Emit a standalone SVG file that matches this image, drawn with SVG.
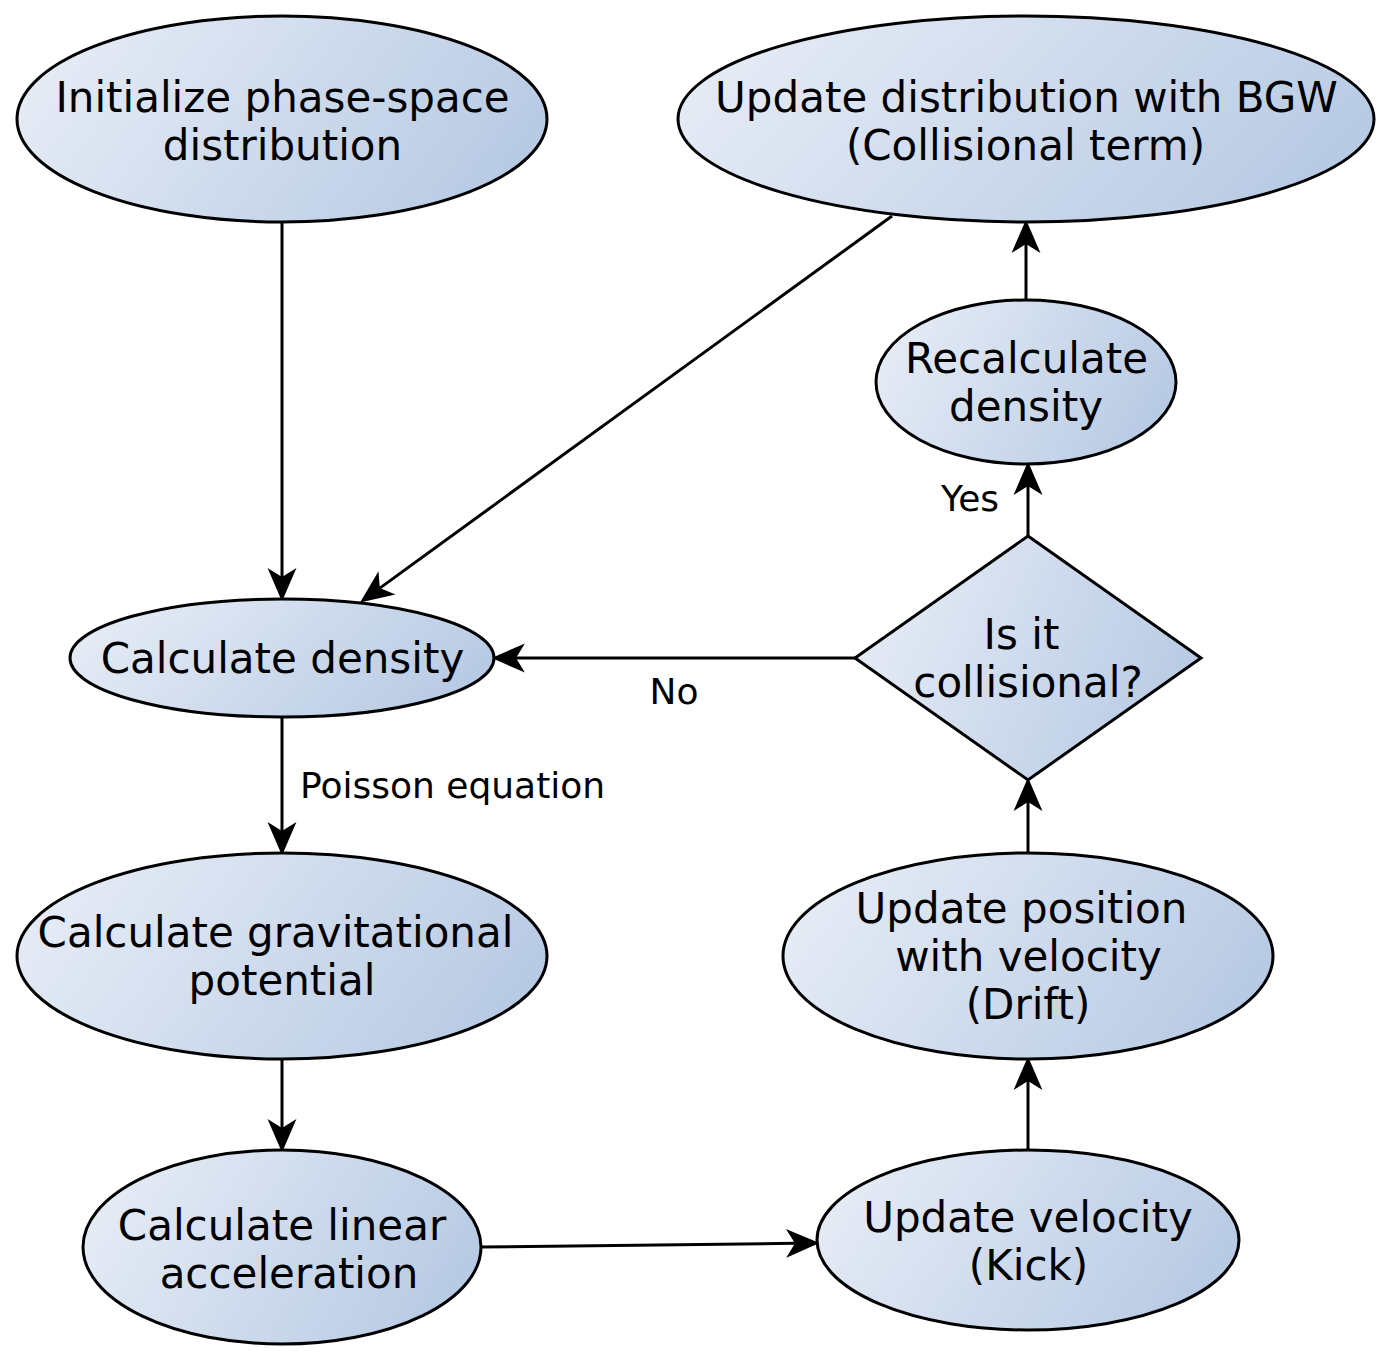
<svg xmlns="http://www.w3.org/2000/svg" width="1392" height="1365" viewBox="0 0 1392 1365">
<style>
.node{fill:url(#g);stroke:#000;stroke-width:3}
.t{font-family:"DejaVu Sans",sans-serif;font-size:42px;text-anchor:middle;fill:#000}
.l{font-family:"DejaVu Sans",sans-serif;font-size:36px;fill:#000}
.c{stroke:#000;stroke-width:3;fill:none;marker-end:url(#ah)}
</style>
<defs>
<linearGradient id="g" x1="0" y1="0.35" x2="1" y2="0.65">
<stop offset="0" stop-color="#e6ecf6"/>
<stop offset="1" stop-color="#b6c9e3"/>
</linearGradient>
<marker id="ah" markerUnits="userSpaceOnUse" markerWidth="40" markerHeight="40" refX="8" refY="0" orient="auto" viewBox="-2 -16 36 32">
<path d="M0,-13 L30,0 L0,13 L8,0 Z" fill="#000"/>
</marker>
</defs>
<rect width="1392" height="1365" fill="#fff"/>
<g id="connectors">
<line class="c" x1="282" y1="223" x2="282" y2="577"/>
<line class="c" x1="892" y1="216" x2="379.8" y2="588.1"/>
<line class="c" x1="855" y1="658" x2="516" y2="658"/>
<line class="c" x1="282" y1="717" x2="282" y2="831"/>
<line class="c" x1="282" y1="1059" x2="282" y2="1128"/>
<line class="c" x1="481" y1="1247" x2="795" y2="1243.3"/>
<line class="c" x1="1028" y1="1150" x2="1028" y2="1081"/>
<line class="c" x1="1028" y1="853" x2="1028" y2="802"/>
<line class="c" x1="1028" y1="536" x2="1028" y2="486"/>
<line class="c" x1="1026" y1="300" x2="1026" y2="244"/>
<text class="l" x="674" y="704" text-anchor="middle">No</text>
<text class="l" x="970" y="511" text-anchor="middle">Yes</text>
<text class="l" x="300" y="798">Poisson equation</text>
</g>
<g id="init">
<ellipse class="node" cx="282" cy="119" rx="265" ry="103"/>
<text class="t" x="282.5" y="112">Initialize phase-space</text>
<text class="t" x="282.5" y="160">distribution</text>
</g>
<g id="update-dist">
<ellipse class="node" cx="1026" cy="119" rx="348" ry="103"/>
<text class="t" x="1026.5" y="112">Update distribution with BGW</text>
<text class="t" x="1025.5" y="160">(Collisional term)</text>
</g>
<g id="recalc">
<ellipse class="node" cx="1026" cy="382" rx="150" ry="82"/>
<text class="t" x="1026.5" y="373">Recalculate</text>
<text class="t" x="1026" y="421">density</text>
</g>
<g id="decision">
<polygon class="node" points="1028,536 1201,658 1028,780 855,658"/>
<text class="t" x="1021.5" y="649">Is it</text>
<text class="t" x="1028" y="697">collisional?</text>
</g>
<g id="calc-density">
<ellipse class="node" cx="282" cy="658" rx="212" ry="59"/>
<text class="t" x="282.5" y="673">Calculate density</text>
</g>
<g id="grav">
<ellipse class="node" cx="282" cy="956" rx="265" ry="103"/>
<text class="t" x="275.5" y="947">Calculate gravitational</text>
<text class="t" x="282" y="995">potential</text>
</g>
<g id="linear">
<ellipse class="node" cx="282" cy="1247" rx="199" ry="97"/>
<text class="t" x="282" y="1240">Calculate linear</text>
<text class="t" x="289" y="1288">acceleration</text>
</g>
<g id="kick">
<ellipse class="node" cx="1028" cy="1240" rx="211" ry="90"/>
<text class="t" x="1028" y="1232">Update velocity</text>
<text class="t" x="1028.5" y="1280">(Kick)</text>
</g>
<g id="drift">
<ellipse class="node" cx="1028" cy="956" rx="245" ry="103"/>
<text class="t" x="1021.5" y="923">Update position</text>
<text class="t" x="1028.5" y="971">with velocity</text>
<text class="t" x="1028" y="1019">(Drift)</text>
</g>
</svg>
